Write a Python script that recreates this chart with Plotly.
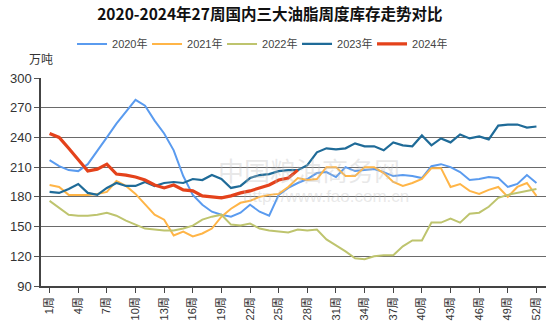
import plotly.graph_objects as go

# Weekly combined inventory of the three major edible oils (10k tonnes)
weeks = list(range(1, 53))

inv_2020 = [217, 211, 207, 206, 213, 226, 240, 254, 266, 278,
            272, 257, 244, 227, 201, 182, 172, 165, 162, 160,
            164, 172, 165, 161, 182, 189, 194, 198, 204, 205,
            200, 210, 206, 207, 208, 205, 201, 202, 201, 199,
            211, 213, 210, 205, 197, 198, 200, 199, 190, 193,
            202, 194]

inv_2021 = [192, 190, 182, 182, 182, 183, 185, 196, 191, 183,
            172, 162, 157, 141, 145, 140, 143, 148, 160, 168,
            174, 176, 180, 182, 183, 190, 199, 197, 198, 210,
            210, 201, 201, 210, 210, 204, 195, 191, 194, 198,
            209, 209, 190, 193, 186, 183, 187, 190, 180, 190,
            194, 181]

inv_2022 = [176, 169, 162, 161, 161, 162, 164, 161, 156, 152,
            148, 147, 146, 146, 148, 151, 157, 160, 162, 152,
            151, 153, 148, 146, 145, 144, 147, 146, 147, 137,
            131, 125, 118, 117, 120, 121, 121, 130, 136, 136,
            154, 154, 158, 154, 163, 164, 170, 179, 182, 184,
            186, 188]

inv_2023 = [185, 184, 188, 193, 184, 182, 189, 194, 191, 191,
            195, 191, 194, 195, 194, 198, 197, 202, 198, 189,
            191, 199, 202, 203, 206, 207, 207, 212, 225, 229,
            228, 229, 234, 231, 231, 227, 235, 232, 231, 242,
            232, 239, 235, 243, 239, 241, 238, 252, 253, 253,
            250, 251]

inv_2024 = [244, 240, 229, 217, 206, 208, 213, 203, 202, 200,
            197, 192, 189, 192, 187, 186, 181, 180, 179, 181,
            184, 186, 189, 192, 197, 199, 207]

series_names = ["2020年", "2021年", "2022年", "2023年", "2024年"]
series_values = [inv_2020, inv_2021, inv_2022, inv_2023, inv_2024]
series_colors = ["#5A9BEF", "#FFB547", "#BEC46E", "#1F6B98", "#E4421B"]
series_widths = [2, 2, 2, 2.2, 3.2]

tick_weeks = list(range(1, 53, 3))
tick_labels = [f"{w}周" for w in tick_weeks]
y_ticks = list(range(90, 301, 30))

CJK = "Liberation Sans, Noto Sans CJK SC, sans-serif"

fig = go.Figure()
for name, vals, color, width in zip(series_names, series_values,
                                    series_colors, series_widths):
    fig.add_trace(go.Scatter(
        x=weeks[:len(vals)], y=vals, name=name, mode="lines",
        line=dict(color=color, width=width),
    ))

# faint site watermark behind the lines
fig.add_annotation(
    text="中国粮油商务网", xref="paper", yref="paper",
    x=0.53, y=0.56, showarrow=False,
    font=dict(family="Noto Sans CJK SC", size=26, color="rgba(190,190,190,0.35)"),
)
fig.add_annotation(
    text="http://www.fao.com.cn", xref="paper", yref="paper",
    x=0.565, y=0.43, showarrow=False,
    font=dict(family="Liberation Sans", size=17, color="rgba(190,190,190,0.35)"),
)

# unit label above the value axis
fig.add_annotation(
    text="万吨", xref="paper", yref="paper", x=0.0, y=1.087,
    xanchor="center", yanchor="middle", showarrow=False,
    font=dict(family=CJK, size=12, color="#333333"),
)

fig.update_layout(
    width=554, height=328,
    margin=dict(l=41, r=8, t=78, b=32),
    paper_bgcolor="white", plot_bgcolor="white",
    title=dict(
        text="<b>2020-2024年27周国内三大油脂周度库存走势对比</b>",
        xref="container", x=0.487, xanchor="center",
        yref="container", y=0.955, yanchor="middle",
        font=dict(family="Noto Sans CJK SC", size=15.5, color="#111111"),
    ),
    legend=dict(
        orientation="h", xref="container", yref="container",
        x=0.13, xanchor="left", y=0.866, yanchor="middle",
        font=dict(family=CJK, size=11, color="#444444"),
        bgcolor="rgba(0,0,0,0)", itemwidth=30, tracegroupgap=0,
        entrywidth=30,
    ),
    showlegend=True,
)

fig.update_xaxes(
    range=[0.1, 53.0], tickmode="array", tickvals=tick_weeks,
    ticktext=tick_labels, tickangle=-90,
    ticks="outside", ticklen=5, tickcolor="#444444", tickwidth=1.3,
    showline=True, linecolor="#444444", linewidth=1.5,
    showgrid=False, zeroline=False,
    tickfont=dict(family=CJK, size=11, color="#333333"),
)
fig.update_yaxes(
    range=[90, 300], tickmode="array", tickvals=y_ticks,
    ticks="outside", ticklen=5, tickcolor="#555555", tickwidth=1.3,
    showline=True, linecolor="#444444", linewidth=1.5,
    showgrid=True, gridcolor="#6a6a6a", gridwidth=1.4,
    zeroline=False,
    tickfont=dict(family="Liberation Sans", size=13, color="#333333"),
)

fig.write_html("out.html")
